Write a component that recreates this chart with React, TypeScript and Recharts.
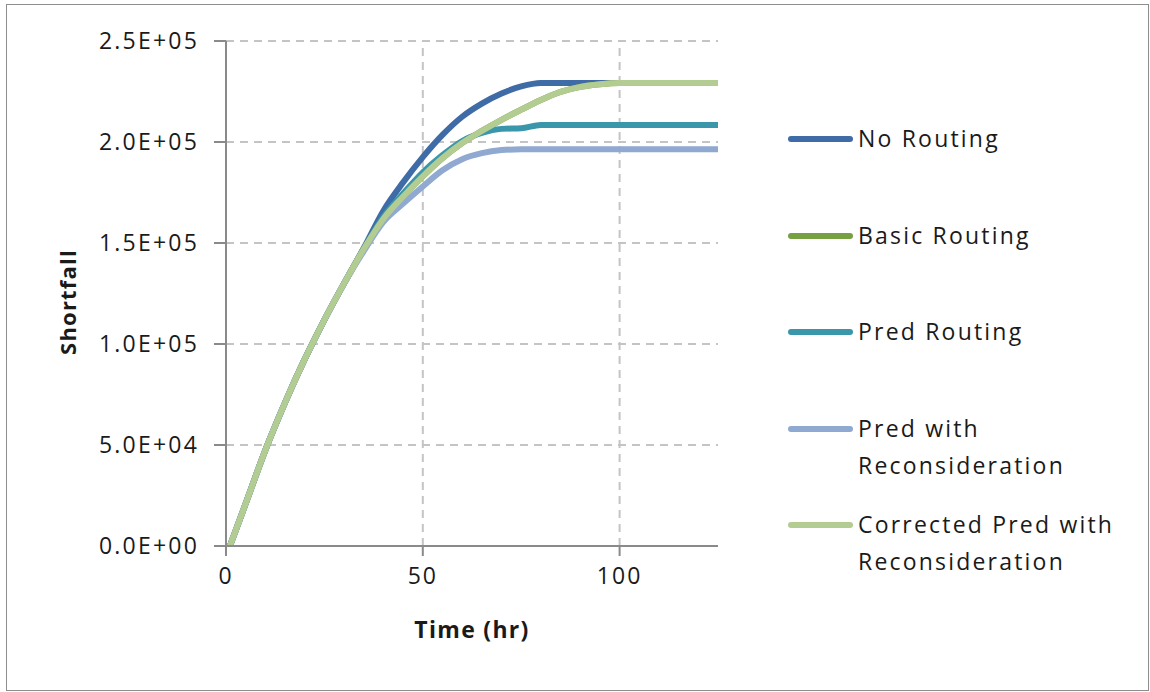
import { LineChart, Line, XAxis, YAxis, CartesianGrid, Legend, Label, ReferenceLine } from "recharts"

// hours
const times = [1, 5, 10, 15, 20, 25, 30, 35, 40, 45, 50, 55, 60, 65, 70, 75, 80, 85, 90, 95, 100, 105, 110, 115, 120, 125]

const noRouting = [0, 21000, 47500, 71000, 92500, 112000, 130000, 147500, 166000, 180000, 192500, 203500, 212500, 219000, 224000, 227500, 229200, 229200, 229200, 229200, 229200, 229200, 229200, 229200, 229200, 229200]
const basicRouting = [0, 21000, 47500, 71000, 92500, 112000, 130000, 147000, 162000, 173000, 183000, 192000, 199500, 205500, 211000, 216000, 220800, 224800, 227300, 228600, 229200, 229200, 229200, 229200, 229200, 229200]
const predRouting = [0, 21000, 47500, 71000, 92500, 112000, 130000, 147000, 163000, 174500, 185000, 193500, 200500, 204500, 206500, 206800, 208400, 208400, 208400, 208400, 208400, 208400, 208400, 208400, 208400, 208400]
const predRecon = [0, 21000, 47500, 71000, 92500, 112000, 130000, 146000, 160500, 169500, 178000, 186000, 191500, 194500, 196000, 196400, 196400, 196400, 196400, 196400, 196400, 196400, 196400, 196400, 196400, 196400]
const correctedRecon = [0, 21000, 47500, 71000, 92500, 112000, 130000, 147000, 162000, 173000, 183000, 192000, 199500, 205500, 211000, 216000, 220800, 224800, 227300, 228600, 229200, 229200, 229200, 229200, 229200, 229200]

const xTicks = [0, 50, 100]
const yTicks = [0, 50000, 100000, 150000, 200000, 250000]

const series = [
  { key: "noRouting", name: "No Routing", color: "#3f6ca6", values: noRouting },
  { key: "basicRouting", name: "Basic Routing", color: "#77a043", values: basicRouting },
  { key: "predRouting", name: "Pred Routing", color: "#3a96aa", values: predRouting },
  { key: "predRecon", name: "Pred with Reconsideration", color: "#8fa9d0", values: predRecon },
  { key: "correctedRecon", name: "Corrected Pred with Reconsideration", color: "#b3cc91", values: correctedRecon },
]

const data = times.map((t, i) => {
  const row: Record<string, number> = { t }
  series.forEach(s => { row[s.key] = s.values[i] })
  return row
})

const FONT = "'Open Sans', sans-serif"
const GRID = "#c4c4c4"

function sci(v: number) {
  const [m, e] = v.toExponential(1).split("e")
  const sign = e[0] === "-" ? "-" : "+"
  const digits = e.replace(/[+-]/, "").padStart(2, "0")
  return `${m}E${sign}${digits}`
}

function LegendBox() {
  const lines: Record<string, string[]> = {
    "Pred with Reconsideration": ["Pred with", "Reconsideration"],
    "Corrected Pred with Reconsideration": ["Corrected Pred with", "Reconsideration"],
  }
  return (
    <div style={{ fontFamily: FONT, fontSize: 23, letterSpacing: 2.2, color: "#1a1a1a" }}>
      {series.map(s => (
        <div key={s.key} style={{ height: 96.5, display: "flex", alignItems: "flex-start" }}>
          <div style={{ width: 65, height: 6, borderRadius: 3, background: s.color, marginTop: 16, marginRight: 5 }} />
          <div style={{ lineHeight: "37px", whiteSpace: "nowrap" }}>
            {(lines[s.name] || [s.name]).map(l => <div key={l}>{l}</div>)}
          </div>
        </div>
      ))}
    </div>
  )
}

export default function App() {
  return (
    <div style={{ position: "absolute", left: 0, top: 0, width: 1150, height: 692, background: "#fff" }}>
      <div style={{ position: "absolute", left: 6, top: 4, width: 1141, height: 685, border: "1px solid #8e8e8e" }} />
      <LineChart
        width={1150}
        height={692}
        data={data}
        margin={{ top: 41, right: 432, bottom: 0, left: 0 }}
        style={{ position: "absolute", left: 0, top: 0 }}
      >
        <CartesianGrid stroke={GRID} strokeWidth={2} strokeDasharray="8 6" vertical={false} />
        {xTicks.filter(t => t > 0).map(t => (
          <ReferenceLine key={t} x={t} stroke={GRID} strokeWidth={2} strokeDasharray="8 6" />
        ))}
        <XAxis
          dataKey="t"
          type="number"
          domain={[0, 125]}
          ticks={xTicks}
          height={146}
          axisLine={{ stroke: "#8a8a8a", strokeWidth: 2 }}
          tickLine={{ stroke: "#8a8a8a", strokeWidth: 2 }}
          tickSize={10}
          tick={{ fill: "#1a1a1a", fontSize: 23, fontFamily: FONT, letterSpacing: 2 }}
          tickMargin={12}
        >
          <Label
            value="Time (hr)"
            position="insideTop"
            offset={76}
            style={{ fontFamily: FONT, fontSize: 23, fontWeight: 700, letterSpacing: 1.3, fill: "#1a1a1a" }}
          />
        </XAxis>
        <YAxis
          type="number"
          domain={[0, 250000]}
          ticks={yTicks}
          width={226}
          tickFormatter={sci}
          axisLine={{ stroke: "#8a8a8a", strokeWidth: 2 }}
          tickLine={{ stroke: "#8a8a8a", strokeWidth: 2 }}
          tickSize={12}
          tick={{ fill: "#1a1a1a", fontSize: 23, fontFamily: FONT, letterSpacing: 2.2 }}
          tickMargin={15}
        >
          <Label
            content={() => (
              <text
                x={67}
                y={302}
                transform="rotate(-90 67 302)"
                textAnchor="middle"
                dominantBaseline="central"
                style={{ fontFamily: FONT, fontSize: 22, fontWeight: 700, letterSpacing: 1.2, fill: "#1a1a1a" }}
              >
                Shortfall
              </text>
            )}
          />
        </YAxis>
        <Legend
          layout="vertical"
          align="center"
          verticalAlign="middle"
          content={() => <LegendBox />}
          wrapperStyle={{ position: "absolute", left: 788, top: 120, width: 350 }}
        />
        {series.map(s => (
          <Line
            key={s.key}
            dataKey={s.key}
            name={s.name}
            type="monotone"
            stroke={s.color}
            strokeWidth={6}
            dot={false}
            isAnimationActive={false}
          />
        ))}
      </LineChart>
    </div>
  )
}
